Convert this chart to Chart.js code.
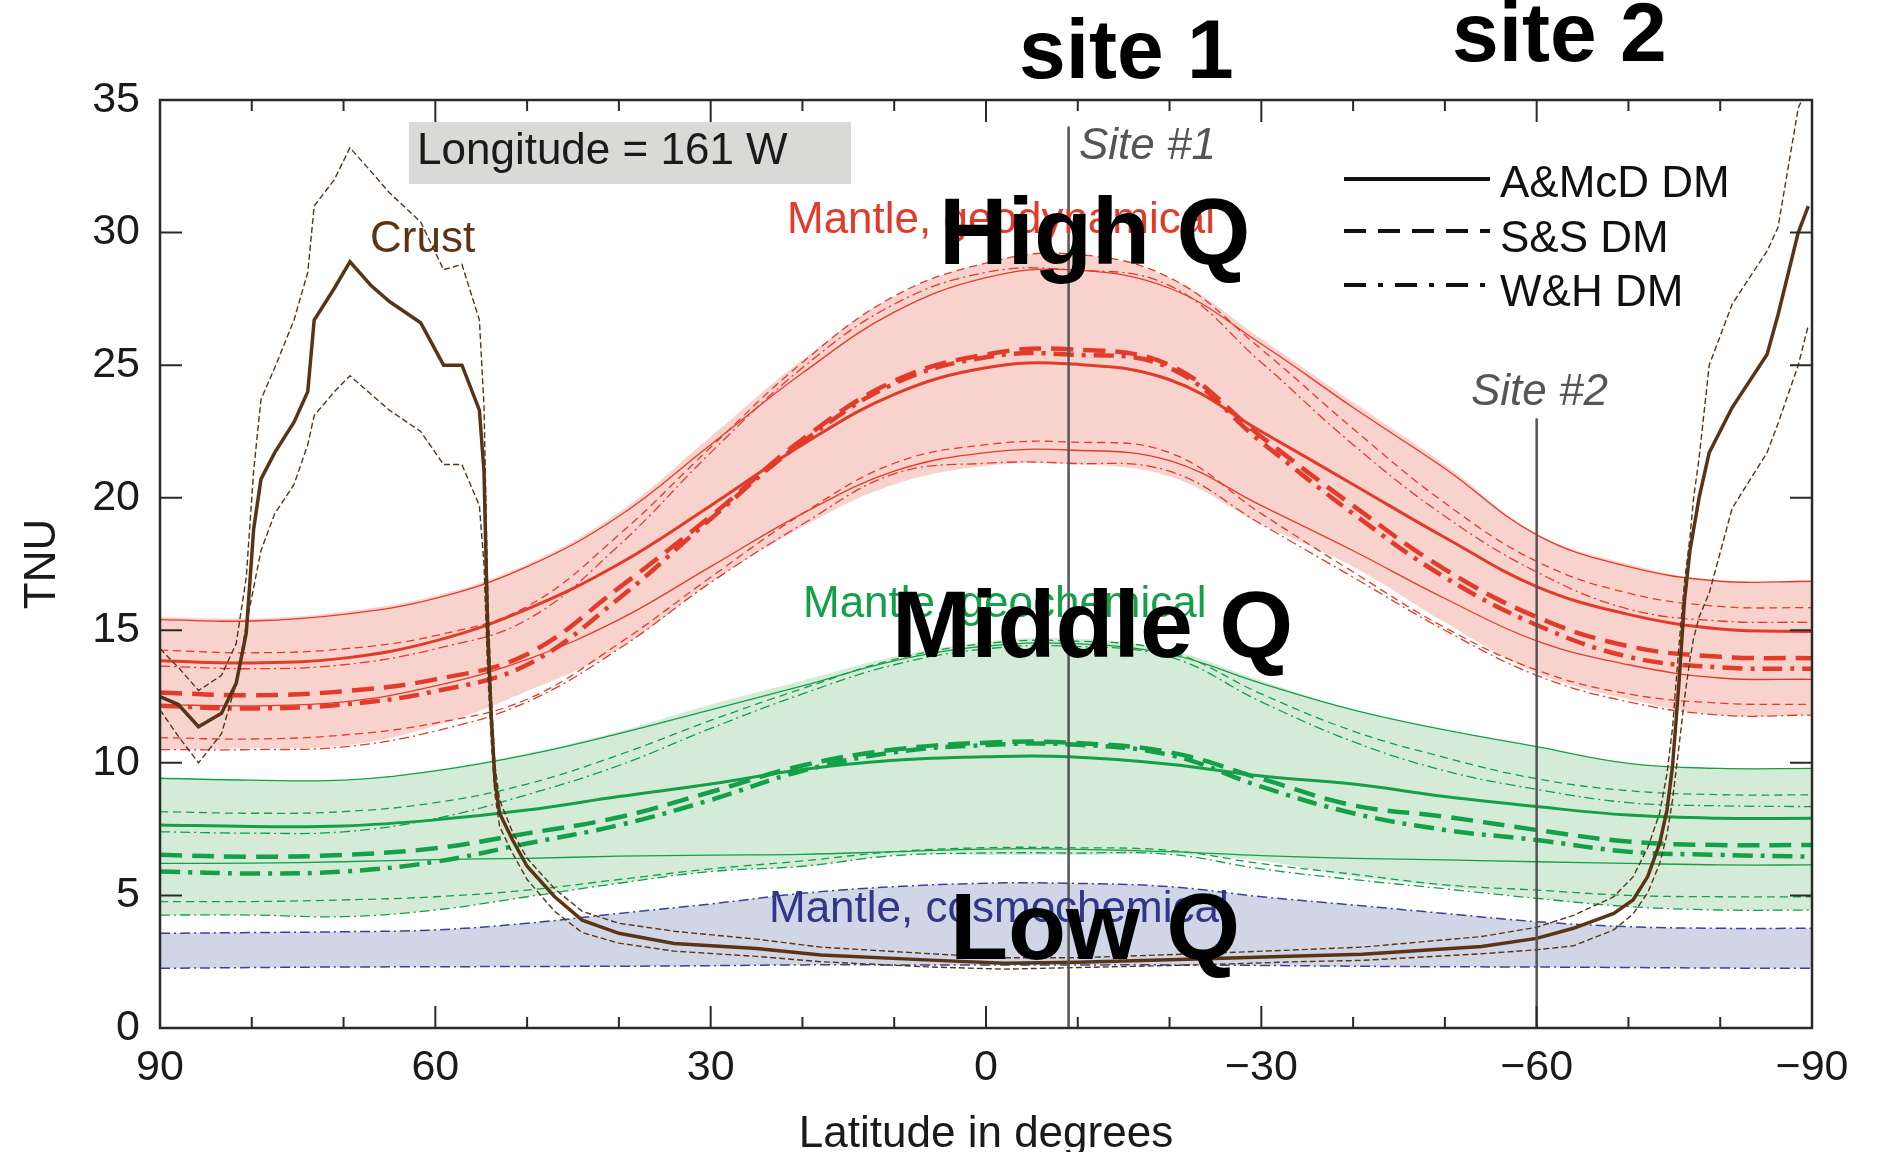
<!DOCTYPE html>
<html>
<head>
<meta charset="utf-8">
<script src="https://cdn.jsdelivr.net/npm/chart.js@4.4.1/dist/chart.umd.min.js"></script>
<style>
  html, body { margin: 0; padding: 0; background: #fff; }
  #wrap { width: 1896px; height: 1152px; }
</style>
</head>
<body>
<div id="wrap"><canvas id="chart" width="1896" height="1152"></canvas></div>
<script>
// Axis ticks
const latTicks = [90, 60, 30, 0, -30, -60, -90];
const tnuTicks = [0, 5, 10, 15, 20, 25, 30, 35];

// Latitude grid for the mantle curves
const LAT = [90, 80, 70, 60, 50, 40, 30, 20, 10, 0, -9, -20, -30, -40, -50, -60, -70, -80, -90];

// Mantle, geodynamical (red)
const redAmcd = [13.85, 13.77, 13.95, 14.6, 15.8, 17.5, 19.7, 22.0, 23.9, 24.9, 25.05, 24.45, 22.5, 20.5, 18.5, 16.65, 15.6, 15.05, 14.95];
const redSs   = [12.65, 12.55, 12.7, 13.15, 14.1, 16.6, 19.3, 22.2, 24.4, 25.4, 25.6, 25.0, 22.3, 19.7, 17.3, 15.5, 14.4, 14.0, 13.95];
const redWh   = [12.15, 12.05, 12.2, 12.7, 13.7, 16.2, 19.2, 22.1, 24.3, 25.3, 25.4, 24.9, 22.1, 19.4, 17.0, 15.2, 14.0, 13.6, 13.55];
const redAmcdHi = [15.4, 15.35, 15.6, 16.2, 17.4, 19.3, 22.0, 24.7, 27.0, 28.3, 28.6, 27.9, 25.8, 23.4, 21.1, 18.6, 17.4, 16.85, 16.85];
const redAmcdLo = [12.2, 12.15, 12.3, 12.9, 13.9, 15.4, 17.4, 19.4, 21.0, 21.7, 21.8, 21.4, 19.7, 18.0, 16.2, 14.6, 13.7, 13.2, 13.15];
const redSsHi = [14.25, 14.15, 14.3, 14.8, 15.9, 18.6, 21.9, 25.1, 27.6, 28.85, 29.2, 28.3, 25.6, 22.6, 19.8, 17.6, 16.4, 15.9, 15.85];
const redSsLo = [10.95, 10.9, 11.05, 11.5, 12.4, 14.5, 17.0, 19.4, 21.3, 22.0, 22.1, 21.7, 19.4, 17.2, 15.1, 13.5, 12.6, 12.25, 12.2];
const redWhHi = [13.65, 13.55, 13.7, 14.3, 15.4, 18.2, 21.7, 24.9, 27.3, 28.5, 28.6, 28.0, 25.1, 22.0, 19.3, 17.2, 15.8, 15.35, 15.3];
const redWhLo = [10.5, 10.5, 10.6, 11.2, 12.3, 14.3, 16.8, 19.0, 20.9, 21.3, 21.3, 21.0, 19.0, 17.0, 15.0, 13.3, 12.3, 11.8, 11.8];
const redTop    = [15.5, 15.45, 15.7, 16.3, 17.5, 19.45, 22.3, 25.2, 27.6, 28.85, 29.2, 28.3, 26.0, 23.6, 21.25, 18.65, 17.5, 16.85, 16.85];
const redBottom = [10.5, 10.55, 10.65, 11.4, 12.7, 14.3, 16.8, 18.9, 20.5, 21.2, 21.27, 20.8, 19.0, 17.4, 15.3, 13.4, 12.4, 11.8, 11.8];

// Mantle, geochemical (green)
const greenAmcd = [7.66, 7.6, 7.62, 7.85, 8.22, 8.73, 9.2, 9.75, 10.1, 10.23, 10.23, 9.95, 9.5, 9.2, 8.73, 8.35, 8.03, 7.91, 7.91];
const greenSs   = [6.53, 6.46, 6.53, 6.78, 7.34, 7.95, 8.9, 9.9, 10.5, 10.76, 10.76, 10.4, 9.4, 8.4, 7.97, 7.47, 7.03, 6.9, 6.9];
const greenWh   = [5.9, 5.83, 5.9, 6.27, 6.96, 7.65, 8.6, 9.7, 10.4, 10.67, 10.7, 10.3, 9.1, 8.1, 7.47, 7.09, 6.65, 6.53, 6.46];
const greenAmcdHi = [9.42, 9.35, 9.35, 9.7, 10.3, 11.1, 12.0, 12.9, 13.85, 14.4, 14.5, 14.1, 13.0, 12.0, 11.24, 10.61, 9.98, 9.79, 9.79];
const greenAmcdLo = [6.21, 6.22, 6.27, 6.35, 6.4, 6.48, 6.52, 6.55, 6.65, 6.75, 6.75, 6.65, 6.5, 6.4, 6.34, 6.27, 6.21, 6.15, 6.15];
const greenSsHi = [8.16, 8.1, 8.16, 8.5, 9.2, 10.3, 11.6, 12.8, 13.9, 14.5, 14.6, 14.2, 12.6, 11.2, 10.2, 9.4, 8.95, 8.8, 8.79];
const greenSsLo = [4.77, 4.77, 4.83, 4.95, 5.2, 5.6, 6.0, 6.3, 6.65, 6.8, 6.8, 6.7, 6.2, 5.8, 5.4, 5.2, 5.0, 4.95, 4.95];
const greenWhHi = [7.4, 7.35, 7.4, 7.9, 8.8, 9.9, 11.3, 12.6, 13.7, 14.3, 14.4, 14.0, 12.3, 10.8, 9.7, 9.0, 8.5, 8.38, 8.35];
const greenWhLo = [4.26, 4.26, 4.2, 4.45, 4.95, 5.46, 5.9, 6.1, 6.5, 6.6, 6.6, 6.55, 6.0, 5.6, 5.25, 4.89, 4.58, 4.45, 4.45];
const greenTop    = [9.42, 9.35, 9.35, 9.73, 10.36, 11.18, 12.2, 13.1, 14.0, 14.57, 14.7, 14.26, 13.1, 12.0, 11.24, 10.61, 9.98, 9.79, 9.79];
const greenBottom = [4.26, 4.26, 4.2, 4.45, 4.95, 5.46, 5.9, 6.08, 6.5, 6.52, 6.52, 6.55, 6.3, 5.71, 5.33, 4.89, 4.58, 4.45, 4.45];

// Mantle, cosmochemical (blue)
const cosmoTop    = [3.57, 3.6, 3.63, 3.7, 3.95, 4.32, 4.68, 5.08, 5.33, 5.46, 5.46, 5.33, 4.95, 4.64, 4.32, 4.01, 3.82, 3.76, 3.76];
const cosmoBottom = [2.25, 2.28, 2.3, 2.31, 2.32, 2.33, 2.35, 2.38, 2.38, 2.38, 2.38, 2.38, 2.36, 2.33, 2.31, 2.3, 2.28, 2.26, 2.25];

// Crust (brown)
const crustLat = [90, 88, 85.8, 83.3, 81.7, 80.6, 79.8, 79, 77.5, 75.4, 73.9, 73.2, 71, 69.3, 67, 65, 61.6, 59.1, 57.1, 55.2,
  54.7, 54.3, 53.9, 53.5, 53, 51.6, 50, 47, 44, 40, 34, 25, 18, 6, -2, -10, -23, -34, -41, -54,
  -60, -64, -68.4, -70.5, -72.1, -73.4, -74.2, -74.8, -75.5, -76.1, -76.7, -77.1, -77.7, -78.8, -81.3, -85.1, -86.3, -88.5, -89.6];
const crustMid = [12.5, 12.2, 11.36, 11.87, 13.0, 14.9, 18.8, 20.7, 21.7, 22.85, 24.0, 26.7, 27.9, 28.9, 28.0, 27.4, 26.6, 25.0, 25.0, 23.3,
  21.0, 15.0, 11.7, 9.3, 8.1, 7.1, 6.1, 4.95, 4.07, 3.57, 3.19, 3.0, 2.75, 2.56, 2.44, 2.48, 2.6, 2.72, 2.78, 3.07,
  3.38, 3.76, 4.32, 4.83, 5.71, 6.96, 8.22, 9.86, 13.0, 16.1, 18.0, 18.8, 20.0, 21.7, 23.4, 25.4, 26.9, 30.0, 31.0];
const crustHi = [14.3, 13.6, 12.73, 13.3, 14.5, 17.0, 21.0, 23.7, 24.9, 26.7, 28.5, 31.0, 32.0, 33.2, 32.3, 31.5, 30.4, 28.6, 28.8, 26.7,
  23.5, 16.5, 12.5, 9.9, 8.6, 7.4, 6.4, 5.25, 4.4, 3.95, 3.65, 3.35, 3.05, 2.8, 2.65, 2.65, 2.8, 2.95, 3.05, 3.45,
  3.8, 4.25, 4.95, 5.7, 6.8, 8.1, 9.6, 11.3, 14.4, 16.8, 18.5, 20.0, 21.5, 25.0, 27.3, 29.3, 30.2, 34.7, 35.5];
const crustLo = [12.0, 11.0, 10.0, 11.1, 13.0, 15.2, 16.6, 18.0, 19.4, 20.5, 22.0, 23.1, 24.0, 24.6, 23.9, 23.3, 22.5, 21.25, 21.25, 19.7,
  17.5, 13.5, 10.8, 8.8, 7.6, 6.6, 5.6, 4.4, 3.6, 3.2, 2.9, 2.7, 2.5, 2.3, 2.22, 2.28, 2.38, 2.5, 2.55, 2.8,
  2.95, 3.1, 3.7, 4.3, 5.1, 6.2, 7.3, 8.6, 10.6, 12.4, 13.9, 14.7, 15.5, 16.4, 19.6, 21.7, 22.8, 25.0, 26.5];

// Sample sites: latitude and top of the marker line (TNU)
const siteLat = [-9, -60];
const siteTop = [34, 23];

const FONT = '"Liberation Sans", Arial, Helvetica, sans-serif';
Chart.defaults.font.family = FONT;

const RED = '#e23b2a', GREEN = '#13a048', NAVY = '#3a4393', BROWN = '#5b3416';
const DASH = [22, 10], DASHDOT = [20, 8, 4, 8];
const THIN_DASH = [8, 5], THIN_DASHDOT = [10, 4, 2, 4];

const pts = (xs, ys) => xs.map((x, i) => ({ x, y: ys[i] }));

// mantle curves are smooth, crust traces keep their jagged straight segments
function curve(ys, color, width, dash, order, xs) {
  return {
    data: pts(xs || LAT, ys),
    borderColor: color,
    borderWidth: width,
    borderDash: dash || [],
    pointRadius: 0,
    fill: false,
    tension: xs ? 0 : 0.4,
    order: order
  };
}

function band(top, bottom, color) {
  return [
    { data: pts(LAT, top), borderColor: 'transparent', borderWidth: 1, pointRadius: 0,
      fill: '+1', backgroundColor: color, tension: 0.4, order: 9 },
    { data: pts(LAT, bottom), borderColor: 'transparent', borderWidth: 1, pointRadius: 0,
      fill: false, tension: 0.4, order: 9 }
  ];
}

const datasets = [
  ...band(redTop, redBottom, '#f8d3ce'),
  ...band(greenTop, greenBottom, '#d4ebd8'),
  ...band(cosmoTop, cosmoBottom, '#d1d6e7'),

  curve(redAmcdHi, RED, 1.3, [], 4), curve(redAmcdLo, RED, 1.3, [], 4),
  curve(redSsHi, RED, 1.3, THIN_DASH, 4), curve(redSsLo, RED, 1.3, THIN_DASH, 4),
  curve(redWhHi, RED, 1.3, THIN_DASHDOT, 4), curve(redWhLo, RED, 1.3, THIN_DASHDOT, 4),
  curve(redAmcd, RED, 3, [], 3), curve(redSs, RED, 4.5, DASH, 3), curve(redWh, RED, 4.5, DASHDOT, 3),

  curve(greenAmcdHi, GREEN, 1.3, [], 4), curve(greenAmcdLo, GREEN, 1.3, [], 4),
  curve(greenSsHi, GREEN, 1.3, THIN_DASH, 4), curve(greenSsLo, GREEN, 1.3, THIN_DASH, 4),
  curve(greenWhHi, GREEN, 1.3, THIN_DASHDOT, 4), curve(greenWhLo, GREEN, 1.3, THIN_DASHDOT, 4),
  curve(greenAmcd, GREEN, 3, [], 3), curve(greenSs, GREEN, 4.5, DASH, 3), curve(greenWh, GREEN, 4.5, DASHDOT, 3),

  curve(cosmoTop, NAVY, 1.5, THIN_DASHDOT, 4), curve(cosmoBottom, NAVY, 1.5, THIN_DASHDOT, 4),

  curve(crustHi, BROWN, 1.4, [6, 3], 1, crustLat),
  curve(crustLo, BROWN, 1.4, [6, 3], 1, crustLat),
  curve(crustMid, BROWN, 3.5, [], 1, crustLat)
];

siteLat.forEach((lat, i) => {
  datasets.push({
    data: [{ x: lat, y: 0 }, { x: lat, y: siteTop[i] }],
    borderColor: '#555', borderWidth: 2.5, pointRadius: 0, fill: false, order: 0
  });
});

function text(ctx, str, x, y, font, color) {
  ctx.font = font;
  ctx.fillStyle = color;
  ctx.textAlign = 'left';
  ctx.textBaseline = 'alphabetic';
  ctx.fillText(str, x, y);
}

const decor = {
  id: 'decor',
  afterDatasetsDraw(chart) {
    const { ctx, chartArea: a, scales: { x, y } } = chart;
    ctx.save();
    ctx.strokeStyle = '#2a2a2a';
    ctx.lineWidth = 2;
    // inward ticks, every 10 degrees, longer every 30
    for (let v = -90; v <= 90; v += 10) {
      const px = x.getPixelForValue(v);
      const len = v % 30 === 0 ? 22 : 11;
      ctx.beginPath();
      ctx.moveTo(px, a.bottom); ctx.lineTo(px, a.bottom - len);
      ctx.moveTo(px, a.top); ctx.lineTo(px, a.top + len);
      ctx.stroke();
    }
    tnuTicks.forEach(v => {
      const py = y.getPixelForValue(v);
      ctx.beginPath();
      ctx.moveTo(a.left, py); ctx.lineTo(a.left + 22, py);
      ctx.moveTo(a.right, py); ctx.lineTo(a.right - 22, py);
      ctx.stroke();
    });
    ctx.lineWidth = 2.5;
    ctx.strokeRect(a.left, a.top, a.right - a.left, a.bottom - a.top);
    ctx.restore();
  },
  afterDraw(chart) {
    const ctx = chart.ctx;
    ctx.save();
    // longitude box
    ctx.fillStyle = '#d9d9d7';
    ctx.fillRect(409, 122, 442, 62);
    text(ctx, 'Longitude = 161 W', 417, 164, '44px ' + FONT, '#1a1a1a');

    text(ctx, 'Crust', 370, 252, '44px ' + FONT, BROWN);
    text(ctx, 'Mantle, geodynamical', 787, 233, '44px ' + FONT, RED);
    text(ctx, 'Mantle, geochemical', 803, 617, '44px ' + FONT, GREEN);
    text(ctx, 'Mantle, cosmochemical', 769, 922, '44px ' + FONT, '#2e3789');

    text(ctx, 'Site #1', 1079, 159, 'italic 44px ' + FONT, '#555');
    text(ctx, 'Site #2', 1471, 405, 'italic 44px ' + FONT, '#555');

    // legend
    const legend = [
      ['A&McD DM', [], 179, 197],
      ['S&S DM', [22, 12], 231, 252],
      ['W&H DM', [22, 12, 5, 12], 285, 306]
    ];
    legend.forEach(([label, dash, ly, by]) => {
      ctx.strokeStyle = '#111';
      ctx.lineWidth = 4;
      ctx.setLineDash(dash);
      ctx.beginPath();
      ctx.moveTo(1344, ly); ctx.lineTo(1490, ly);
      ctx.stroke();
      ctx.setLineDash([]);
      text(ctx, label, 1500, by, '44px ' + FONT, '#111');
    });

    // overlay annotations
    text(ctx, 'site 1', 1019, 78, 'bold 84px ' + FONT, '#000');
    text(ctx, 'site 2', 1452, 61, 'bold 84px ' + FONT, '#000');
    text(ctx, 'High Q', 939, 264, 'bold 95px ' + FONT, '#000');
    text(ctx, 'Middle Q', 892, 657, 'bold 95px ' + FONT, '#000');
    text(ctx, 'Low Q', 950, 959, 'bold 95px ' + FONT, '#000');
    ctx.restore();
  }
};

new Chart(document.getElementById('chart'), {
  type: 'line',
  data: { datasets },
  plugins: [decor],
  options: {
    responsive: false,
    animation: false,
    devicePixelRatio: 1,
    layout: { padding: { top: 100, right: 84, left: 0, bottom: 0 } },
    plugins: {
      legend: { display: false },
      tooltip: { enabled: false },
      filler: { drawTime: 'beforeDatasetsDraw' }
    },
    scales: {
      x: {
        type: 'linear',
        reverse: true,
        min: -90,
        max: 90,
        afterBuildTicks: s => { s.ticks = latTicks.map(value => ({ value })); },
        afterFit: s => { s.height = 124; },
        grid: { display: false, drawTicks: false },
        border: { display: false },
        ticks: {
          padding: 14,
          maxRotation: 0,
          autoSkip: false,
          color: '#1a1a1a',
          font: { size: 43 },
          callback: v => v < 0 ? '\u2212' + (-v) : String(v)
        },
        title: {
          display: true,
          text: 'Latitude in degrees',
          color: '#1a1a1a',
          font: { size: 44, lineHeight: 0.8 },
          padding: { top: 0, bottom: 0 }
        }
      },
      y: {
        min: 0,
        max: 35,
        afterBuildTicks: s => { s.ticks = tnuTicks.map(value => ({ value })); },
        afterFit: s => { s.width = 160; },
        grid: { display: false, drawTicks: false },
        border: { display: false },
        ticks: { padding: 20, color: '#1a1a1a', font: { size: 43 } },
        title: {
          display: true,
          text: 'TNU',
          color: '#1a1a1a',
          font: { size: 44 },
          padding: { top: 16, bottom: 0 }
        }
      }
    }
  }
});
</script>
</body>
</html>
